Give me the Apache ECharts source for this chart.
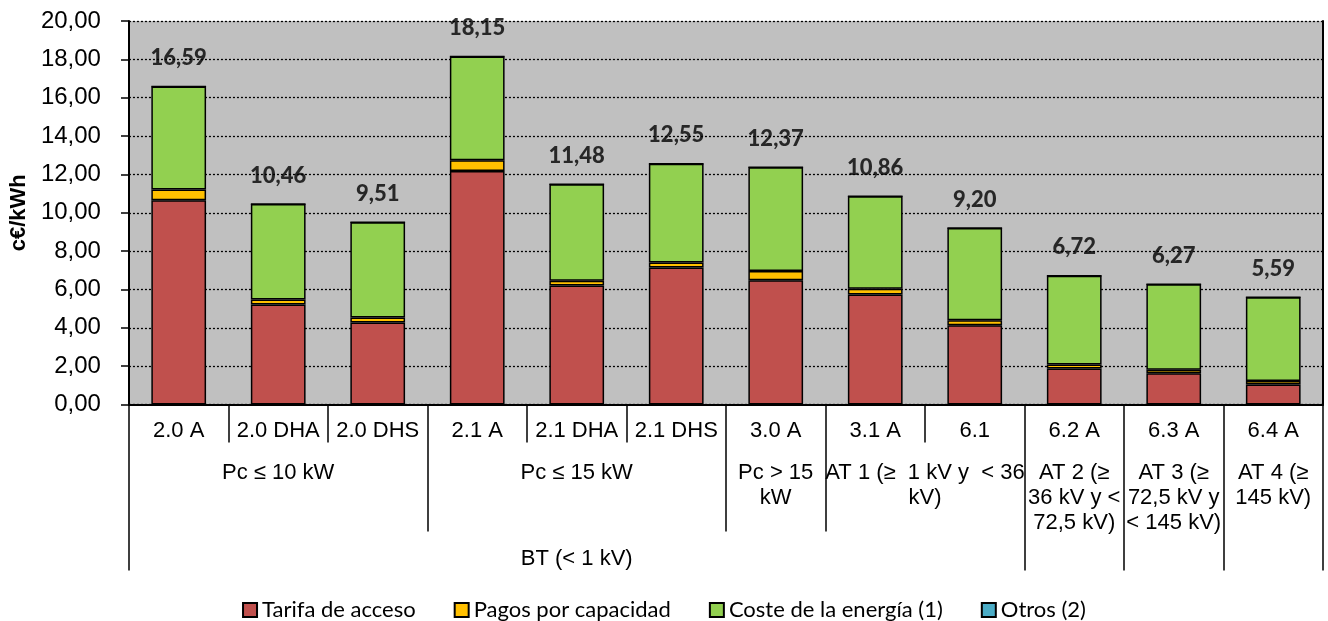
<!DOCTYPE html>
<html>
<head>
<meta charset="utf-8">
<script src="https://cdn.jsdelivr.net/npm/echarts@6/dist/echarts.min.js"></script>
<style>
html,body{margin:0;padding:0;background:#fff;}
#chart{width:1328px;height:621px;}
</style>
</head>
<body>
<div id="chart"></div>
<script>
// ---- data ----
const categories = ['2.0 A','2.0 DHA','2.0 DHS','2.1 A','2.1 DHA','2.1 DHS','3.0 A','3.1 A','6.1','6.2 A','6.3 A','6.4 A'];
const tarifa = [10.65, 5.22, 4.27, 12.18, 6.20, 7.14, 6.48, 5.74, 4.13, 1.88, 1.63, 1.04];
const pagos  = [0.56, 0.26, 0.27, 0.56, 0.26, 0.27, 0.48, 0.30, 0.26, 0.21, 0.18, 0.18];
const coste  = [5.38, 4.98, 4.97, 5.41, 5.02, 5.14, 5.41, 4.82, 4.81, 4.63, 4.46, 4.37];
const otros  = [0, 0, 0, 0, 0, 0, 0, 0, 0, 0, 0, 0];
const totals = [16.59, 10.46, 9.51, 18.15, 11.48, 12.55, 12.37, 10.86, 9.20, 6.72, 6.27, 5.59];
const level2Labels = ['Pc ≤ 10 kW', 'Pc ≤ 15 kW', 'Pc > 15\nkW', 'AT 1 (≥  1 kV y  < 36\nkV)', 'AT 2 (≥\n36 kV y <\n72,5 kV)', 'AT 3 (≥\n72,5 kV y\n< 145 kV)', 'AT 4 (≥\n145 kV)'];
const level2Spans  = [3, 3, 1, 2, 1, 1, 1];
const level3Labels = ['BT (< 1 kV)', '', '', ''];
const level3Spans  = [9, 1, 1, 1];
const seriesNames = ['Tarifa de acceso', 'Pagos por capacidad', 'Coste de la energía (1)', 'Otros (2)'];
const yAxisName = 'c€/kWh';

// ---- helpers: build half-step positions for group axes ----
function buildGroupAxis(labels, spans) {
  const n = categories.length * 2 + 1; // positions 0, 0.5, ..., 12
  const text = new Array(n).fill('');
  const ticks = new Array(n).fill(false);
  let start = 0;
  ticks[0] = true;
  labels.forEach((lab, i) => {
    const end = start + spans[i];
    text[start + end] = lab;
    ticks[end * 2] = true;
    start = end;
  });
  const data = text.map((_, i) => 'p' + i);
  return { data, text, ticks };
}
const g2 = buildGroupAxis(level2Labels, level2Spans);
const g3 = buildGroupAxis(level3Labels, level3Spans);

const ARIAL = 'Liberation Sans, Arial, sans-serif';
const CALIBRI = 'Lato, Carlito, Calibri, sans-serif';
const colors = ['#C0504D', '#FFC000', '#92D050', '#4BACC6'];

const chart = echarts.init(document.getElementById('chart'), null, {renderer: 'canvas'});
const barCommon = {
  type: 'bar', stack: 'total', barWidth: '55%', xAxisIndex: 0, yAxisIndex: 0,
  itemStyle: { borderColor: '#000', borderWidth: 1.5 }
};
const option = {
  animation: false,
  backgroundColor: '#fff',
  grid: {
    left: 127, right: 5, top: 21, bottom: 216.5,
    show: true, backgroundColor: '#C0C0C0', borderWidth: 0
  },
  legend: {
    data: seriesNames,
    top: 598, left: 'center', padding: 0,
    itemWidth: 14, itemHeight: 14, itemGap: 38,
    icon: 'rect',
    textStyle: { fontFamily: CALIBRI, fontSize: 22, color: '#000', lineHeight: 24 }
  },
  xAxis: [
    {
      type: 'category', data: categories, position: 'bottom', boundaryGap: true,
      axisLine: { show: true, lineStyle: { color: '#000', width: 2 } },
      axisTick: { show: true, interval: 0, length: 38, lineStyle: { color: '#000', width: 1.5 } },
      axisLabel: { interval: 0, margin: 14, fontFamily: ARIAL, fontSize: 22, color: '#000', lineHeight: 24 },
      splitLine: { show: false }
    },
    {
      type: 'category', data: g2.data, position: 'bottom', boundaryGap: false,
      axisLine: { show: false },
      axisTick: { show: true, length: 127, interval: (i) => g2.ticks[i], lineStyle: { color: '#000', width: 1.5 } },
      axisLabel: { interval: 0, margin: 56, fontFamily: ARIAL, fontSize: 22, color: '#000', lineHeight: 25, align: 'center',
        formatter: (v, i) => g2.text[i] },
      splitLine: { show: false }
    },
    {
      type: 'category', data: g3.data, position: 'bottom', boundaryGap: false,
      axisLine: { show: false },
      axisTick: { show: true, length: 166, interval: (i) => g3.ticks[i], lineStyle: { color: '#000', width: 1.5 } },
      axisLabel: { interval: 0, margin: 142, fontFamily: ARIAL, fontSize: 22, color: '#000', lineHeight: 24, align: 'center',
        formatter: (v, i) => g3.text[i] },
      splitLine: { show: false }
    }
  ],
  yAxis: [
    {
      type: 'value', min: 0, max: 20, interval: 2, position: 'left',
      name: yAxisName, nameLocation: 'middle', nameGap: 96, nameRotate: 90,
      nameTextStyle: { fontFamily: ARIAL, fontSize: 22, fontWeight: 'bold', color: '#000' },
      axisLine: { show: true, lineStyle: { color: '#000', width: 2 } },
      axisTick: { show: true, inside: false, length: 8, lineStyle: { color: '#000', width: 1.5 } },
      axisLabel: { margin: 28, fontFamily: ARIAL, fontSize: 24, color: '#000',
        formatter: (v) => v.toFixed(2).replace('.', ',') },
      splitLine: { show: true, lineStyle: { color: '#000', width: 1.3, type: [2, 2] } }
    },
    {
      type: 'value', min: 0, max: 20, interval: 2, position: 'right',
      axisLine: { show: true, lineStyle: { color: '#000', width: 2 } },
      axisTick: { show: false }, axisLabel: { show: false }, splitLine: { show: false }
    }
  ],
  series: [
    Object.assign({}, barCommon, { name: seriesNames[0], data: tarifa, itemStyle: Object.assign({}, barCommon.itemStyle, { color: colors[0] }) }),
    Object.assign({}, barCommon, { name: seriesNames[1], data: pagos,  itemStyle: Object.assign({}, barCommon.itemStyle, { color: colors[1] }) }),
    Object.assign({}, barCommon, { name: seriesNames[2], data: coste,  itemStyle: Object.assign({}, barCommon.itemStyle, { color: colors[2] }) }),
    Object.assign({}, barCommon, { name: seriesNames[3], data: otros,  itemStyle: Object.assign({}, barCommon.itemStyle, { color: colors[3] }) }),
    {
      name: 'Total', type: 'scatter', xAxisIndex: 0, yAxisIndex: 0,
      data: totals, symbol: 'circle', symbolSize: 1,
      itemStyle: { color: 'rgba(0,0,0,0)' },
      silent: true,
      label: {
        show: true, position: 'top', distance: 16,
        fontFamily: CALIBRI, fontSize: 22, fontWeight: 900, color: '#000', lineHeight: 24,
        formatter: (p) => p.value.toFixed(2).replace('.', ',')
      },
      z: 10
    }
  ]
};
chart.setOption(option);
</script>
</body>
</html>
